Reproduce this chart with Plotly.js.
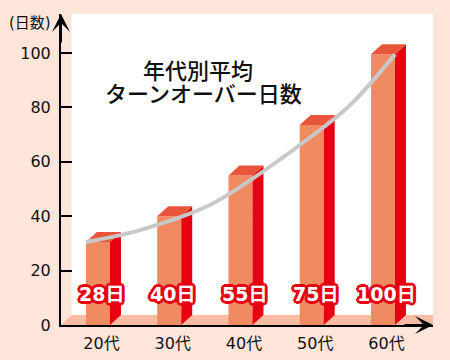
<!DOCTYPE html>
<html><head><meta charset="utf-8">
<script src="https://cdn.plot.ly/plotly-3.0.1.min.js"></script>
<style>html,body{margin:0;padding:0;background:#fde5da;}#chart{width:450px;height:360px;}</style>
</head><body><div id="chart"></div>
<script>
// data
var categories = ['20代', '30代', '40代', '50代', '60代'];
var barHeights = [30.5, 40, 55, 73.5, 99.5];
var barLabels = ['28日', '40日', '55日', '75日', '100日'];
var curveX = [-0.17, 0.59, 1.57, 2.18, 2.70, 3.33, 3.61, 4.17];
var curveY = [30.5, 34.9, 44.1, 54.0, 63.6, 76.1, 82.7, 99.5];
var yTicks = [0, 20, 40, 60, 80, 100];
var titleLines = ['年代別平均', 'ターンオーバー日数'];

var FONT = '"DejaVu Sans", "Noto Sans CJK JP", sans-serif';
var CJK = '"Noto Sans CJK JP", "Noto Sans", sans-serif';
var xs = categories.map(function (c, i) { return i; });
var W = 0.337;   // front face width (x units)
var DX = 0.154;  // depth offset x
var DY = 3.68;   // depth offset y

var sideX = [], sideY = [], topX = [], topY = [];
xs.forEach(function (x, i) {
  var v = barHeights[i], r = x + W / 2, l = x - W / 2;
  sideX.push(r, r, r + DX, r + DX, r, null);
  sideY.push(0, v, v + DY, DY, 0, null);
  topX.push(l, r, r + DX, l + DX, l, null);
  topY.push(v, v, v + DY, v + DY, v, null);
});

var traces = [
  {type: 'bar', x: xs, y: barHeights, width: W, marker: {color: '#f08a60', line: {width: 0}}, hoverinfo: 'skip'},
  {type: 'scatter', mode: 'lines', x: sideX, y: sideY, fill: 'toself', fillcolor: '#e60012', line: {width: 0, color: '#e60012'}, hoverinfo: 'skip'},
  {type: 'scatter', mode: 'lines', x: topX, y: topY, fill: 'toself', fillcolor: '#e8553a', line: {width: 0, color: '#e8553a'}, hoverinfo: 'skip'},
  {type: 'scatter', mode: 'lines', x: curveX, y: curveY, line: {shape: 'spline', smoothing: 1, color: '#c8c8c8', width: 4}, hoverinfo: 'skip'}
];

var outline = [];
[[2,0],[-2,0],[0,2],[0,-2],[2,2],[-2,-2],[2,-2],[-2,2],[1,2],[2,1],[-1,2],[-2,1],[1,-2],[2,-1],[-1,-2],[-2,-1],[3,0],[-3,0],[0,3],[0,-3]].forEach(function (d) {
  outline.push(d[0] + 'px ' + d[1] + 'px 0 #e60012');
});

var annotations = xs.map(function (x, i) {
  return {x: x + 0.05, y: 11.4, xref: 'x', yref: 'y', xanchor: 'center', yanchor: 'middle', text: barLabels[i], showarrow: false,
    font: {family: FONT, size: 19, color: '#ffffff', weight: 700, shadow: outline.join(', ')}};
});
annotations.push(
  {x: 0.368, y: 0.823, xref: 'paper', yref: 'paper', xanchor: 'center', yanchor: 'middle', text: titleLines[0], showarrow: false, font: {family: CJK, size: 22, color: '#111', weight: 500}},
  {x: 0.384, y: 0.749, xref: 'paper', yref: 'paper', xanchor: 'center', yanchor: 'middle', text: titleLines[1], showarrow: false, font: {family: CJK, size: 22, color: '#111', weight: 500}},
  {x: -0.083, y: 0.971, xref: 'paper', yref: 'paper', xanchor: 'center', yanchor: 'middle', text: '(日数)', showarrow: false, font: {family: FONT, size: 15, color: '#111'}},
  {x: 0, y: 1.0, xref: 'paper', yref: 'paper', ax: 0, ay: 30, axref: 'pixel', ayref: 'pixel', text: '', showarrow: true, arrowhead: 3, arrowsize: 1.5, arrowwidth: 2, arrowcolor: '#000'},
  {x: 1.0, y: 0, xref: 'paper', yref: 'paper', ax: -30, ay: 0, axref: 'pixel', ayref: 'pixel', text: '', showarrow: true, arrowhead: 3, arrowsize: 1.5, arrowwidth: 2, arrowcolor: '#000'}
);

var layout = {
  width: 450, height: 360,
  margin: {l: 61, r: 17, t: 14, b: 35},
  paper_bgcolor: '#fde5da', plot_bgcolor: '#fde5da',
  showlegend: false,
  font: {family: FONT, color: '#111'},
  xaxis: {range: [-0.519, 4.702], tickvals: xs.map(function (x) { return x + 0.05; }), ticktext: categories,
    showgrid: false, zeroline: false, showline: true, linecolor: '#000', linewidth: 2, ticks: '',
    ticklabelstandoff: 3, tickfont: {family: FONT, size: 16, color: '#111'}, fixedrange: true},
  yaxis: {range: [0, 114.34], tickvals: yTicks, showgrid: false, zeroline: false, showline: true,
    linecolor: '#000', linewidth: 2, ticks: 'inside', ticklen: 11, tickwidth: 2, tickcolor: '#000',
    ticklabelstandoff: 5, tickfont: {family: FONT, size: 16, color: '#111'}, fixedrange: true},
  shapes: [
    {type: 'rect', xref: 'paper', yref: 'paper', x0: 0.028, x1: 1, y0: 0, y1: 1, fillcolor: '#ffffff', line: {width: 0}, layer: 'below'},
    {type: 'path', xref: 'paper', yref: 'paper', path: 'M0,0 L0.0296,0.0322 L1,0.0322 L1,0 Z', fillcolor: '#f7bca2', line: {width: 0}, layer: 'below'}
  ],
  annotations: annotations
};

Plotly.newPlot('chart', traces, layout, {displayModeBar: false, staticPlot: true});
</script>
</body></html>
